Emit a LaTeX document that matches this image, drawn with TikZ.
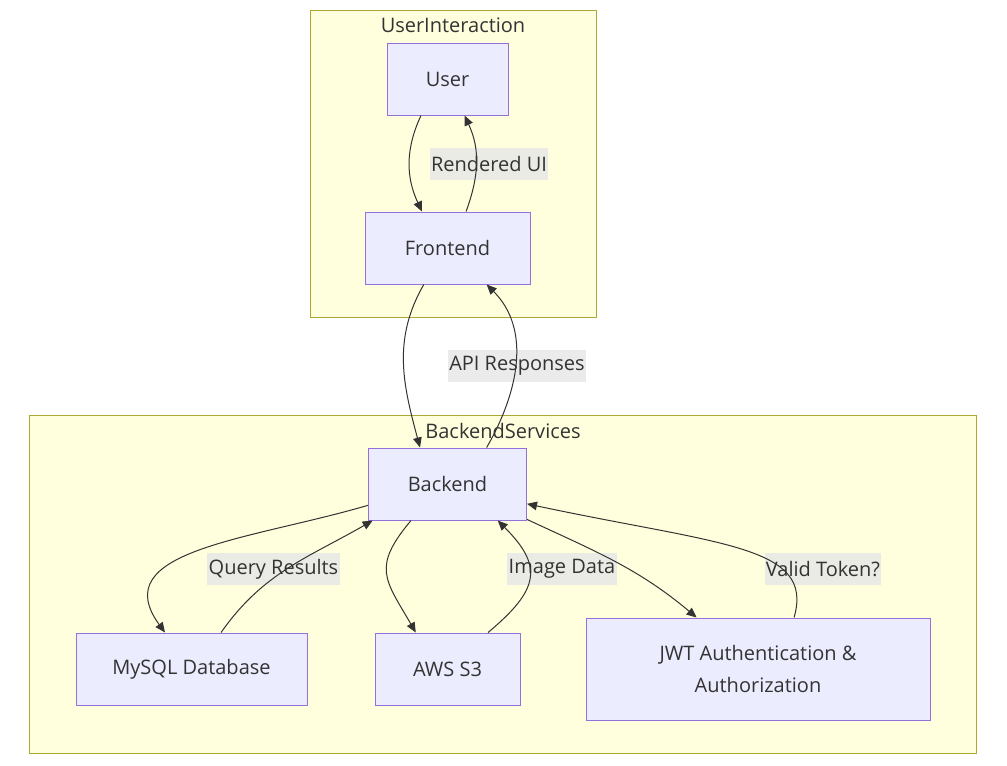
\documentclass[tikz,border=0pt]{standalone}
\usepackage{fontspec}
\setmainfont{Open Sans}
\usetikzlibrary{positioning, arrows.meta}
\definecolor{clusterfill}{HTML}{FFFFDE}
\definecolor{clusterline}{HTML}{AAAA33}
\definecolor{boxfill}{HTML}{ECECFF}
\definecolor{boxline}{HTML}{9370DB}
\definecolor{ink}{HTML}{333333}
\definecolor{lblfill}{HTML}{E8E8E8}
\tikzset{
  cluster/.style={draw=clusterline, fill=clusterfill, line width=0.75pt, inner sep=0pt},
  clustertitle/.style={text=ink, font=\fontsize{15pt}{18pt}\selectfont, inner sep=0pt},
  box/.style={draw=boxline, fill=boxfill, line width=0.75pt, text=ink, align=center,
    minimum height=54pt, inner sep=0pt, font=\fontsize{15pt}{18pt}\selectfont},
  flow/.style={draw=ink, line width=0.75pt, -{Triangle[length=7.5pt, width=6.5pt]}},
  lbl/.style={fill=lblfill, fill opacity=0.85, text opacity=1, text=ink, inner xsep=1pt,
    inner ysep=0pt, minimum height=24pt, font=\fontsize{15pt}{18pt}\selectfont}
}

\begin{document}
\begin{tikzpicture}[x=0.75pt, y=-0.75pt, node distance=4cm, on grid]
  \useasboundingbox (0,0) rectangle (1007,765);

  \node[cluster, minimum width=214.5pt, minimum height=230.25pt] (userinteraction) at (453,163.5) {};
  \node[clustertitle] (userinteractiontitle) at (453,25) {UserInteraction};
  \node[cluster, minimum width=710.25pt, minimum height=253.5pt] (backendservices) at (502.5,584) {};
  \node[clustertitle] (backendservicestitle) at (503,431) {BackendServices};

  \node[lbl] (renderedui) at (489,164) {Rendered UI};
  \node[lbl] (apiresponses) at (517,366) {API Responses};
  \node[lbl] (queryresults) at (273.5,569) {Query Results};
  \node[lbl] (imagedata) at (562,569) {Image Data};
  \node[lbl] (validtoken) at (823,569) {Valid Token?};

  \node[box, minimum width=90.75pt] (user) at (447.5,79) {User};
  \node[box, minimum width=123.75pt] (frontend) [below=126.75pt of user] {Frontend};
  \node[box, minimum width=118.5pt] (backend) [below=177pt of frontend] {Backend};
  \node[box, minimum width=108.75pt] (s3) [below=138.75pt of backend] {AWS S3};
  \node[box, minimum width=173.25pt] (mysql) [left=192pt of s3] {MySQL Database};
  \node[box, minimum width=258pt, minimum height=76.5pt] (jwt) [right=232.875pt of s3] {%
    JWT Authentication \&\\[6pt]
    Authorization
  };

  \draw[flow] (user.234) to[out=245, in=115] (frontend.125);
  \draw[flow] (frontend.63) to[out=70, in=295] (user.295);

  \draw[flow] (frontend.237) to[out=240, in=105] (backend.127);
  \draw[flow] (backend.43) to[out=60, in=315] (frontend.317);

  \draw[flow] (backend.195) .. controls (250,540) and (105,550) .. (mysql.126);
  \draw[flow] (mysql.51) to[out=55, in=210] (backend.206);

  \draw[flow] (backend.225) to[out=230, in=120, looseness=1.4] (s3.131);
  \draw[flow] (s3.42) to[out=40, in=315, looseness=1.5] (backend.324);

  \draw[flow] (backend.336) to[out=335, in=140] (jwt.140);
  \draw[flow] (jwt.55) .. controls (815,545) and (720,545) .. (backend.346);

\end{tikzpicture}
\end{document}
